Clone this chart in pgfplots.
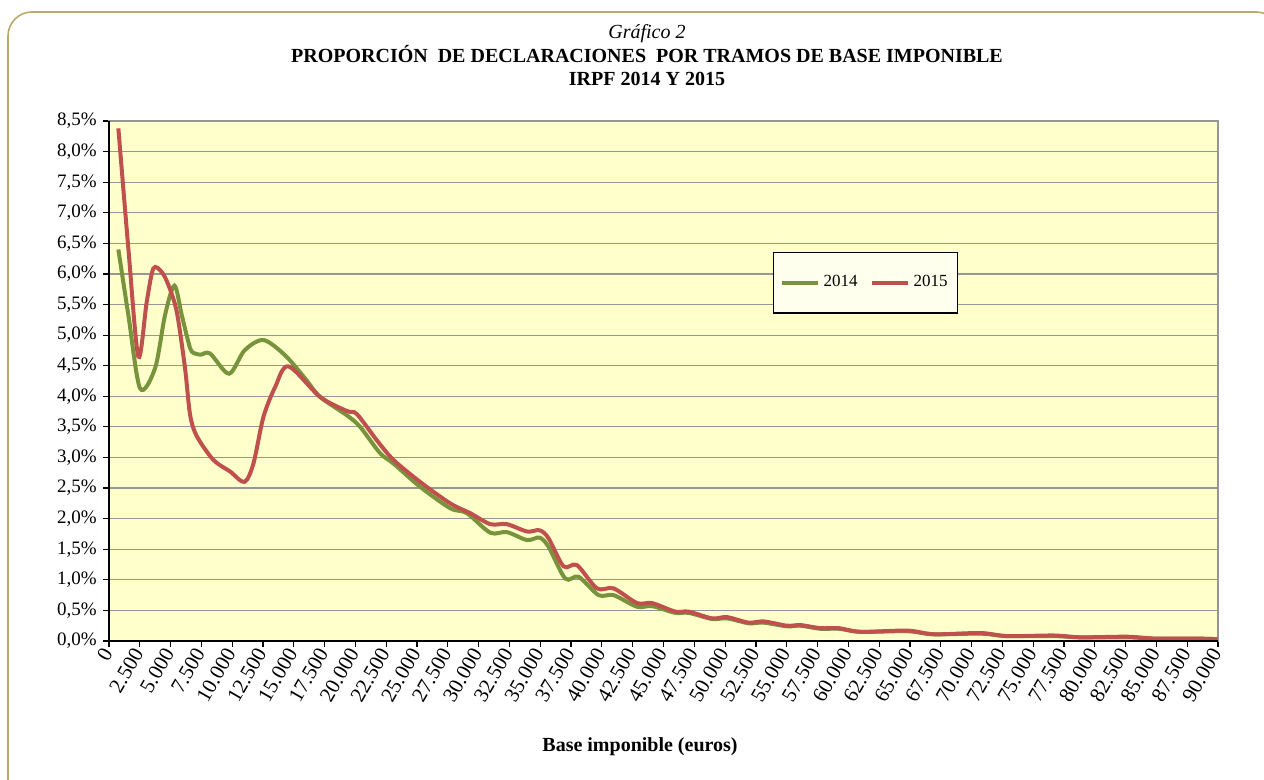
\documentclass[border=0pt]{standalone}
\usepackage{pgfplots}
\pgfplotsset{compat=1.18}
\usepackage{fontspec}
\setmainfont{Liberation Serif}
\definecolor{green14}{RGB}{119,147,60}
\definecolor{red15}{RGB}{192,80,77}
\definecolor{plotbg}{RGB}{255,255,204}
\definecolor{gridgray}{RGB}{150,150,150}
\definecolor{framecol}{RGB}{185,168,110}
\definecolor{legbg}{RGB}{255,255,238}

\pgfplotstableread{
x y
760 6.40
1570 5.33
2520 4.13
3740 4.46
4550 5.33
5310 5.81
5900 5.33
6440 4.89
6720 4.73
7400 4.68
8200 4.70
9740 4.37
11000 4.75
12530 4.92
14290 4.67
15920 4.29
17130 3.99
19300 3.69
20380 3.50
22000 3.07
23090 2.90
25250 2.52
27690 2.17
29040 2.09
30940 1.77
32290 1.78
33920 1.65
34940 1.69
35670 1.54
37030 1.02
38110 1.05
39730 0.75
40950 0.75
42850 0.56
44070 0.57
45960 0.46
47040 0.46
48940 0.36
50160 0.37
51910 0.29
53130 0.30
55030 0.24
56110 0.25
57740 0.20
59230 0.20
60990 0.15
64780 0.16
66940 0.11
70730 0.12
72890 0.08
76680 0.08
78850 0.06
82640 0.06
84800 0.04
88050 0.04
89950 0.03
}\dataA

\pgfplotstableread{
x y
760 8.38
1570 6.42
2380 4.65
3060 5.54
3600 6.09
4280 6.03
4820 5.82
5500 5.38
6170 4.46
6580 3.70
7120 3.35
8470 2.96
9830 2.77
10990 2.60
11720 2.90
12530 3.66
13480 4.15
14560 4.49
17130 3.99
19300 3.76
20110 3.71
21740 3.28
23090 2.96
25250 2.60
27690 2.25
29310 2.09
30940 1.91
32290 1.91
33920 1.79
34940 1.81
35670 1.68
36890 1.22
37980 1.24
39600 0.86
40950 0.86
42850 0.62
44070 0.62
45960 0.48
47040 0.48
48940 0.37
50160 0.39
51910 0.30
53130 0.32
55030 0.25
56110 0.26
57740 0.21
59230 0.21
60990 0.15
64780 0.17
66940 0.11
70730 0.13
72890 0.08
76680 0.09
78850 0.06
82640 0.07
84800 0.04
88050 0.04
89950 0.03
}\dataB

\begin{document}
\begin{tikzpicture}
\useasboundingbox (0bp,0bp) rectangle (632bp,390bp);
\begin{scope}
\clip (0bp,0bp) rectangle (632bp,390bp);
\draw[framecol, line width=0.8bp, rounded corners=12bp] (4bp,-20bp) rectangle (640bp,384bp);
\end{scope}
\node[anchor=base, font=\fontsize{10bp}{12bp}\selectfont\itshape] at (323.5bp,370.5bp) {Gráfico 2};
\node[anchor=base, font=\fontsize{10bp}{12bp}\selectfont\bfseries] at (323.5bp,358.5bp) {PROPORCIÓN\ \ DE DECLARACIONES\ \ POR TRAMOS DE BASE IMPONIBLE};
\node[anchor=base, font=\fontsize{10bp}{12bp}\selectfont\bfseries] at (323.5bp,347bp) {IRPF 2014 Y 2015};
\node[anchor=base, font=\fontsize{10bp}{12bp}\selectfont\bfseries] at (320bp,14.5bp) {Base imponible (euros)};
\begin{axis}[
  at={(54.5bp,69.5bp)}, anchor=south west,
  width=554.5bp, height=260bp, scale only axis,
  xmin=0, xmax=90000, ymin=0, ymax=8.5,
  axis background/.style={fill=plotbg},
  axis line style={gridgray, line width=0.6bp},
  ymajorgrids, major grid style={gridgray, line width=0.6bp},
  tick align=outside, xtick pos=lower, ytick pos=left,
  major tick length=3bp,
  tick style={black, line width=0.6bp},
  scaled x ticks=false, scaled y ticks=false,
  xtick={0,2500,...,90000},
  xticklabels={0,2.500,5.000,7.500,10.000,12.500,15.000,17.500,20.000,22.500,25.000,27.500,30.000,32.500,35.000,37.500,40.000,42.500,45.000,47.500,50.000,52.500,55.000,57.500,60.000,62.500,65.000,67.500,70.000,72.500,75.000,77.500,80.000,82.500,85.000,87.500,90.000},
  ytick={0,0.5,1,1.5,2,2.5,3,3.5,4,4.5,5,5.5,6,6.5,7,7.5,8,8.5},
  yticklabels={{0,0\%},{0,5\%},{1,0\%},{1,5\%},{2,0\%},{2,5\%},{3,0\%},{3,5\%},{4,0\%},{4,5\%},{5,0\%},{5,5\%},{6,0\%},{6,5\%},{7,0\%},{7,5\%},{8,0\%},{8,5\%}},
  xticklabel style={font=\fontsize{10.5bp}{12bp}\selectfont, rotate=60, anchor=east, inner sep=1.5bp},
  yticklabel style={font=\fontsize{9.5bp}{11bp}\selectfont, inner sep=3bp},
  legend columns=2,
  legend style={at={(0.5987,0.748)}, anchor=north west, draw=black, line width=0.6bp, fill=legbg,
    font=\fontsize{8.5bp}{10bp}\selectfont, inner xsep=3bp, inner ysep=9.5bp,
    /tikz/every even column/.append style={column sep=4bp}},
  legend image code/.code={\draw[#1, line width=2bp] (0bp,0bp) -- (18bp,0bp);},
  clip=false,
]
\addplot[green14, line width=2bp, smooth, tension=0.5] table[x=x,y=y] {\dataA};
\addlegendentry{2014}
\addplot[red15, line width=2bp, smooth, tension=0.5] table[x=x,y=y] {\dataB};
\addlegendentry{2015}
\draw[black, line width=0.8bp] (axis cs:0,8.5) -- (axis cs:0,0) -- (axis cs:90000,0);
\end{axis}
\end{tikzpicture}
\end{document}
